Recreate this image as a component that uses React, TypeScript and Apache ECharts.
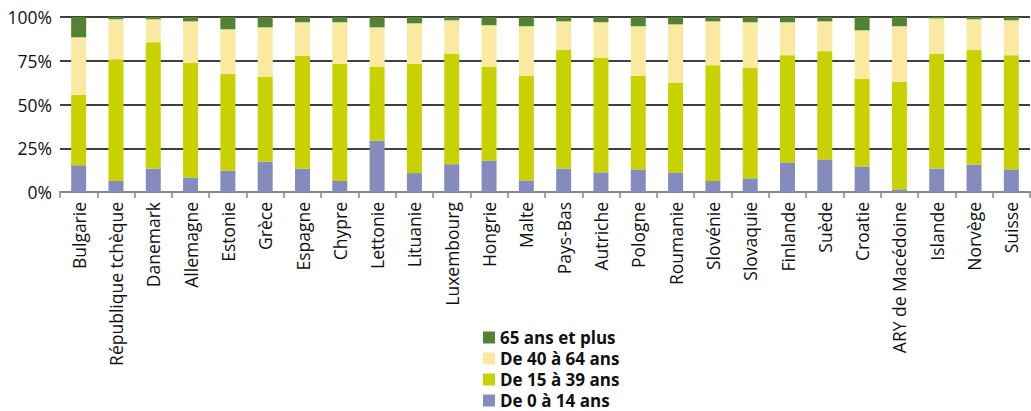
import React, { useEffect, useRef } from "react";
import * as echarts from "echarts";

const countries = [
  "Bulgarie", "République tchèque", "Danemark", "Allemagne", "Estonie", "Grèce",
  "Espagne", "Chypre", "Lettonie", "Lituanie", "Luxembourg", "Hongrie", "Malte",
  "Pays-Bas", "Autriche", "Pologne", "Roumanie", "Slovénie", "Slovaquie",
  "Finlande", "Suède", "Croatie", "ARY de Macédoine", "Islande", "Norvège", "Suisse",
];

const age0to14 = [15.3, 6.3, 13.4, 8.3, 12.3, 17.4, 13.4, 6.3, 29.4, 10.8, 15.9, 18.0, 6.6, 13.4, 11.2, 12.9, 11.2, 6.3, 7.8, 16.9, 18.6, 14.6, 1.5, 13.4, 15.7, 12.9];
const age15to39 = [40.2, 69.6, 72.2, 65.4, 55.1, 48.3, 64.3, 66.8, 42.0, 62.3, 62.9, 53.4, 59.7, 67.7, 65.3, 53.4, 51.1, 66.2, 63.0, 61.3, 61.9, 50.0, 61.4, 65.4, 65.4, 65.3];
const age40to64 = [32.9, 22.8, 13.1, 23.8, 25.6, 28.4, 19.3, 23.9, 22.7, 23.3, 19.3, 23.9, 28.4, 16.4, 20.5, 28.4, 33.5, 25.0, 26.2, 18.8, 17.0, 27.8, 31.8, 20.4, 17.6, 19.9];
const age65plus = [11.6, 1.3, 1.3, 2.5, 7.0, 5.9, 3.0, 3.0, 5.9, 3.6, 1.9, 4.7, 5.3, 2.5, 3.0, 5.3, 4.2, 2.5, 3.0, 3.0, 2.5, 7.6, 5.3, 0.8, 1.3, 1.9];

const seriesNames = ["De 0 à 14 ans", "De 15 à 39 ans", "De 40 à 64 ans", "65 ans et plus"];
const legendOrder = ["65 ans et plus", "De 40 à 64 ans", "De 15 à 39 ans", "De 0 à 14 ans"];
const colors = ["#868BBE", "#C8D200", "#FAE9A0", "#538330"];
const yTicks = [0, 25, 50, 75, 100];

export default function App() {
  const ref = useRef<HTMLDivElement>(null);
  useEffect(() => {
    if (!ref.current) return;
    const chart = echarts.init(ref.current, null, { renderer: "svg" });
    const font = "'Open Sans', 'Noto Sans', sans-serif";
    const data = [age0to14, age15to39, age40to64, age65plus];
    chart.setOption({
      animation: false,
      textStyle: { fontFamily: font },
      grid: { left: 60, right: 1, top: 17, bottom: 219, containLabel: false },
      legend: {
        orient: "vertical",
        left: 483,
        top: 329,
        bottom: 0,
        padding: 0,
        itemWidth: 12,
        itemHeight: 12,
        itemGap: 4,
        icon: "rect",
        data: legendOrder,
        textStyle: { fontFamily: font, fontSize: 17, lineHeight: 17, fontWeight: "bold", color: "#111", padding: [0, 0, 0, 0] },
      },
      xAxis: {
        type: "category",
        data: countries,
        boundaryGap: true,
        axisLine: { show: true, lineStyle: { color: "#888", width: 2 } },
        axisTick: { show: true, length: 6, lineStyle: { color: "#888", width: 1.5 } },
        axisLabel: { rotate: 90, interval: 0, fontSize: 17.5, color: "#111", margin: 10, fontFamily: font },
      },
      yAxis: {
        type: "value",
        min: 0,
        max: 100,
        interval: 25,
        axisLine: { show: false },
        axisTick: { show: false },
        splitLine: { lineStyle: { color: "#000", width: 1.5 } },
        axisLabel: {
          formatter: (v: number) => (yTicks.includes(v) ? v + "%" : ""),
          fontSize: 17.5,
          color: "#111",
          margin: 8,
          fontFamily: font,
        },
      },
      series: seriesNames.map((name, i) => ({
        name,
        type: "bar",
        stack: "total",
        barWidth: 15,
        data: data[i],
        itemStyle: { color: colors[i] },
      })),
    });
    return () => chart.dispose();
  }, []);
  return (
    <div
      ref={ref}
      style={{ position: "fixed", left: 0, top: 0, width: 1031, height: 411, background: "#fff" }}
    />
  );
}
